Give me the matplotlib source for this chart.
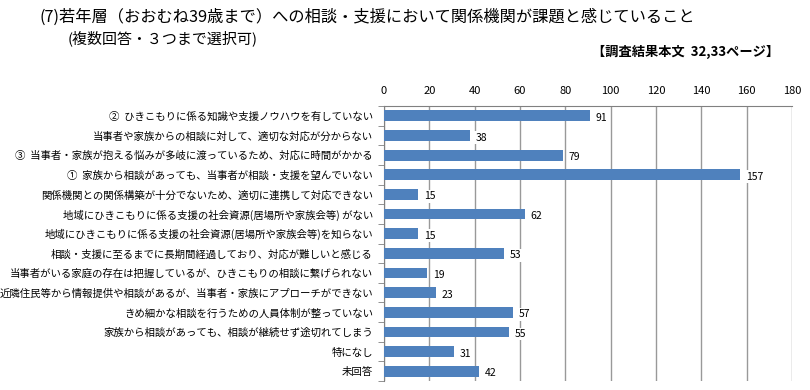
import numpy as np
import matplotlib
matplotlib.use("Agg")
import matplotlib.pyplot as plt

plt.rcParams['font.family'] = ['Noto Sans CJK JP', 'DejaVu Sans']

# données
labels = [
    "②  ひきこもりに係る知識や支援ノウハウを有していない",
    "当事者や家族からの相談に対して、適切な対応が分からない",
    "③  当事者・家族が抱える悩みが多岐に渡っているため、対応に時間がかかる",
    "①  家族から相談があっても、当事者が相談・支援を望んでいない",
    "関係機関との関係構築が十分でないため、適切に連携して対応できない",
    "地域にひきこもりに係る支援の社会資源(居場所や家族会等) がない",
    "地域にひきこもりに係る支援の社会資源(居場所や家族会等)を知らない",
    "相談・支援に至るまでに長期間経過しており、対応が難しいと感じる",
    "当事者がいる家庭の存在は把握しているが、ひきこもりの相談に繋げられない",
    "近隣住民等から情報提供や相談があるが、当事者・家族にアプローチができない",
    "きめ細かな相談を行うための人員体制が整っていない",
    "家族から相談があっても、相談が継続せず途切れてしまう",
    "特になし",
    "未回答",
]
values = [91, 38, 79, 157, 15, 62, 15, 53, 19, 23, 57, 55, 31, 42]
xticks = [0, 20, 40, 60, 80, 100, 120, 140, 160, 180]

fig = plt.figure(figsize=(8.1, 3.9), dpi=100)
ax = fig.add_axes([0.474, 0.023, 0.504, 0.705])

y = np.arange(len(values))
ax.barh(y, values, height=0.55, color='#4F81BD', zorder=3)
ax.set_ylim(len(values) - 0.5, -0.5)
ax.set_xlim(0, 180)

# étiquettes de valeurs
for yi, v in zip(y, values):
    ax.text(v + 2.5, yi + 0.1, str(v), va='center', ha='left', fontsize=7.5,
            bbox=dict(facecolor='white', edgecolor='none', pad=1.0), zorder=4)

ax.set_yticks(y)
ax.set_yticklabels(labels, fontsize=7.5)
ax.set_yticks(np.arange(len(values) + 1) - 0.5, minor=True)
ax.tick_params(axis='y', which='major', length=0, pad=8)
ax.tick_params(axis='y', which='minor', length=4, color='#808080', direction='out')

ax.xaxis.tick_top()
ax.set_xticks(xticks)
ax.tick_params(axis='x', length=0, labelsize=8, pad=7)
ax.grid(axis='x', color='#999999', linewidth=1.0, zorder=0)

for s in ['right', 'bottom']:
    ax.spines[s].set_visible(False)
ax.spines['left'].set_color('#808080')
ax.spines['top'].set_color('#808080')

fig.text(0.049, 0.955, "(7)若年層（おおむね39歳まで）への相談・支援において関係機関が課題と感じていること",
         fontsize=11.7, va='center', ha='left')
fig.text(0.083, 0.902, "(複数回答・３つまで選択可)", fontsize=10.8, va='center', ha='left')
fig.text(0.962, 0.866, "【調査結果本文  32,33ページ】", fontsize=9.5, fontweight='bold',
         va='center', ha='right')

plt.savefig("out.png", dpi=100)
